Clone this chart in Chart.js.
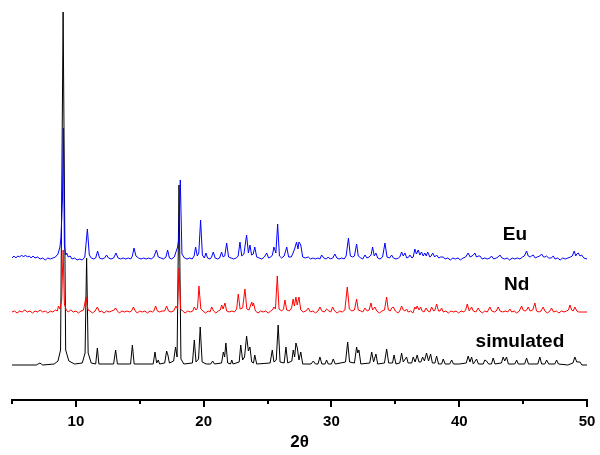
<!DOCTYPE html>
<html>
<head>
<meta charset="utf-8">
<script src="https://cdn.jsdelivr.net/npm/chart.js@4.4.1/dist/chart.umd.min.js"></script>
<style>
  body { margin: 0; background: #fff; }
  canvas { display: block; }
</style>
</head>
<body>
<canvas id="xrd" width="600" height="455"></canvas>
<script>
// 2-theta / intensity pairs (intensity above each trace's own baseline)
const simulated = [
    [5,0],[6.9,0],[7.19,2],[7.4,0],[8.3,1],[8.6,4],[8.8,15],[9.0,353],[9.2,15],[9.45,4],[9.9,1],
    [10.5,2],[10.72,12],[10.84,107],[10.96,12],[11.2,2],[11.55,1],[11.68,17],[11.8,1],[12.95,1],
    [13.11,15],[13.25,1],[14.28,1],[14.42,20],[14.56,1],[16.05,1],[16.19,13],[16.32,2],[16.45,5],
    [16.55,1],[16.95,2],[17.1,14],[17.2,10],[17.32,2],[17.65,4],[17.8,18],[17.92,8],[18.07,180],
    [18.22,6],[18.45,1],[19.12,2],[19.27,25],[19.4,3],[19.6,6],[19.73,38],[19.88,3],[20.2,1],
    [20.55,1],[20.7,4],[20.85,1],[21.4,2],[21.54,13],[21.64,8],[21.74,22],[21.88,2],[22.1,1],
    [22.2,5],[22.3,1],[22.78,3],[22.9,20],[23.05,5],[23.2,8],[23.36,29],[23.5,14],[23.62,18],
    [23.76,3],[23.9,2],[24.0,10],[24.15,1],[25.2,2],[25.37,15],[25.5,3],[25.68,5],[25.83,40],
    [25.98,3],[26.3,2],[26.44,18],[26.58,2],[26.9,4],[27.01,15],[27.12,8],[27.22,22],[27.33,17],
    [27.46,5],[27.6,13],[27.75,1],[28.4,1],[28.58,4],[28.75,1],[28.95,1],[29.1,8],[29.25,1],
    [29.5,1],[29.62,5],[29.75,1],[30.0,1],[30.14,6],[30.3,1],[31.1,3],[31.27,23],[31.42,3],
    [31.8,2],[31.97,18],[32.06,12],[32.15,15],[32.3,1],[33.0,2],[33.15,13],[33.3,3],[33.48,11],
    [33.62,1],[34.15,2],[34.32,16],[34.48,2],[34.78,2],[34.9,10],[35.05,1],[35.35,2],[35.49,12],
    [35.62,3],[35.88,8],[36.0,2],[36.28,2],[36.4,8],[36.55,3],[36.71,10],[36.85,3],[37.0,3],
    [37.13,8],[37.28,4],[37.44,12],[37.6,4],[37.76,11],[37.9,2],[38.1,2],[38.23,9],[38.38,1],
    [38.62,1],[38.75,6],[38.9,1],[39.25,1],[39.41,5],[39.55,1],[40.0,1],[40.55,2],[40.7,9],
    [40.84,3],[40.97,8],[41.1,1],[41.36,6],[41.5,1],[41.88,1],[42.0,5],[42.14,4],[42.3,1],
    [42.52,1],[42.66,7],[42.8,1],[43.3,2],[43.44,8],[43.56,4],[43.7,8],[43.85,1],[44.35,1],
    [44.49,5],[44.62,1],[45.12,1],[45.27,7],[45.42,1],[46.15,1],[46.31,8],[46.45,1],[46.7,1],
    [46.84,5],[47.0,1],[47.48,1],[47.62,5],[47.76,1],[48.5,0],[48.9,2],[49.05,8],[49.2,3],
    [49.45,3],[49.6,0],[50,0]
];

const nd = [
    [5,0],[5.2,1],[5.4,-1],[5.6,1],[5.8,0],[6.0,2],[6.2,0],[6.4,1],[6.6,-1],[6.8,1],[7.0,0],[7.2,2],
    [7.4,0],[7.6,1],[7.8,-1],[8.0,1],[8.2,0],[8.4,2],[8.55,1],[8.63,6],[8.75,3],[8.89,12],[9.0,62],
    [9.1,8],[9.25,2],[9.4,0],[9.6,2],[9.8,0],[10.0,1],[10.2,-1],[10.4,1],[10.6,2],[10.79,15],
    [10.95,2],[11.1,1],[11.3,-1],[11.5,1],[11.68,5],[11.85,0],[12.0,1],[12.2,-1],[12.4,1],[12.6,0],
    [12.8,1],[13.0,2],[13.1,4],[13.25,1],[13.4,-1],[13.6,1],[13.8,0],[14.0,1],[14.2,0],[14.35,1],
    [14.5,5],[14.65,1],[14.8,-1],[15.0,1],[15.2,0],[15.4,1],[15.6,-1],[15.8,1],[16.0,0],[16.1,1],
    [16.24,6],[16.38,1],[16.55,0],[16.75,1],[16.95,1],[17.1,6],[17.25,1],[17.45,0],[17.65,1],
    [17.83,6],[17.95,3],[18.07,44],[18.2,3],[18.35,1],[18.55,-1],[18.75,1],[18.95,0],[19.15,1],
    [19.27,5],[19.4,2],[19.52,4],[19.63,26],[19.78,3],[19.95,1],[20.15,-1],[20.35,1],[20.5,0],
    [20.63,5],[20.78,1],[20.95,-1],[21.15,1],[21.3,2],[21.41,7],[21.52,3],[21.67,9],[21.8,1],
    [22.0,0],[22.2,1],[22.4,0],[22.58,3],[22.71,18],[22.85,3],[23.05,4],[23.23,23],[23.38,3],
    [23.55,2],[23.76,10],[23.84,6],[23.9,9],[24.05,1],[24.25,-1],[24.45,1],[24.65,0],[24.85,1],
    [25.05,-1],[25.25,1],[25.38,2],[25.5,5],[25.62,3],[25.76,36],[25.9,3],[26.1,1],[26.25,3],
    [26.36,12],[26.5,2],[26.7,1],[26.88,4],[27.0,13],[27.1,6],[27.22,15],[27.32,7],[27.46,15],
    [27.6,2],[27.8,0],[28.0,1],[28.19,4],[28.35,0],[28.55,1],[28.75,-1],[28.95,1],[29.1,5],
    [29.25,1],[29.45,0],[29.62,3],[29.8,1],[29.95,0],[30.09,5],[30.25,1],[30.45,-1],[30.65,1],
    [30.85,0],[31.05,2],[31.24,25],[31.4,3],[31.6,1],[31.8,2],[31.97,13],[32.1,2],[32.3,1],
    [32.45,0],[32.62,4],[32.8,1],[32.95,2],[33.09,9],[33.22,2],[33.4,5],[33.55,1],[33.75,-1],
    [33.95,1],[34.15,2],[34.32,15],[34.45,2],[34.6,1],[34.71,4],[34.84,5],[35.0,1],[35.2,-1],
    [35.35,1],[35.49,6],[35.62,2],[35.75,1],[35.88,3],[36.0,0],[36.2,1],[36.38,-1],[36.53,5],
    [36.62,3],[36.71,6],[36.85,2],[36.98,5],[37.1,1],[37.25,0],[37.4,4],[37.55,1],[37.7,0],
    [37.84,5],[38.0,1],[38.1,2],[38.23,8],[38.38,1],[38.5,1],[38.62,4],[38.75,0],[38.95,1],
    [39.15,-1],[39.35,1],[39.55,0],[39.75,1],[39.95,-1],[40.15,1],[40.35,0],[40.5,2],[40.63,8],
    [40.78,1],[40.97,5],[41.1,1],[41.3,0],[41.49,4],[41.62,1],[41.8,-1],[42.0,1],[42.2,0],
    [42.4,5],[42.55,1],[42.75,0],[42.9,1],[43.05,5],[43.2,1],[43.4,0],[43.6,1],[43.8,0],
    [43.97,3],[44.1,0],[44.3,1],[44.5,-1],[44.7,1],[44.88,6],[45.0,2],[45.15,1],[45.28,2],
    [45.4,5],[45.55,1],[45.75,2],[45.92,9],[46.05,1],[46.25,0],[46.4,1],[46.57,5],[46.7,1],
    [46.9,-1],[47.1,1],[47.23,4],[47.38,0],[47.6,1],[47.8,-1],[48.0,1],[48.2,0],[48.4,1],
    [48.55,2],[48.66,7],[48.8,2],[48.92,1],[49.05,5],[49.2,1],[49.35,0],[49.7,0],[50,0]
];

const eu = [
    [5,1],[5.15,3],[5.3,1],[5.45,3],[5.6,2],[5.75,4],[5.9,2],[6.05,4],[6.2,2],[6.35,3],[6.5,1],
    [6.65,3],[6.8,1],[7.0,2],[7.2,0],[7.4,1],[7.6,-1],[7.8,1],[8.0,0],[8.2,1],[8.4,2],[8.6,5],
    [8.75,12],[8.83,21],[8.95,60],[9.02,131],[9.1,14],[9.2,4],[9.28,6],[9.4,2],[9.55,3],[9.7,0],
    [9.9,1],[10.1,-1],[10.3,0],[10.5,-1],[10.7,2],[10.9,30],[11.05,4],[11.2,1],[11.4,0],[11.55,1],
    [11.7,8],[11.85,1],[12.05,0],[12.25,1],[12.4,4],[12.55,1],[12.75,0],[12.95,1],[13.14,6],
    [13.3,1],[13.5,0],[13.7,1],[13.9,0],[14.1,1],[14.3,0],[14.42,3],[14.55,11],[14.7,3],[14.9,1],
    [15.1,0],[15.3,1],[15.5,0],[15.7,1],[15.9,0],[16.1,2],[16.3,9],[16.45,2],[16.65,1],[16.85,0],
    [17.05,2],[17.18,9],[17.32,1],[17.5,0],[17.7,2],[17.96,12],[18.05,20],[18.17,79],[18.3,5],
    [18.5,1],[18.7,0],[18.9,1],[19.1,0],[19.25,3],[19.37,12],[19.5,3],[19.62,6],[19.76,39],
    [19.9,4],[20.05,1],[20.18,6],[20.3,1],[20.5,0],[20.62,2],[20.75,7],[20.9,1],[21.1,0],
    [21.25,1],[21.4,7],[21.52,2],[21.65,3],[21.8,16],[21.95,2],[22.15,1],[22.35,0],[22.55,1],
    [22.7,3],[22.84,17],[22.98,3],[23.15,5],[23.36,24],[23.5,6],[23.62,14],[23.75,4],[23.88,5],
    [24.0,12],[24.15,2],[24.35,1],[24.55,0],[24.75,2],[24.93,6],[25.08,1],[25.25,2],[25.38,4],
    [25.5,12],[25.65,6],[25.79,35],[25.93,3],[26.1,1],[26.3,3],[26.5,12],[26.65,2],[26.85,2],
    [27.0,6],[27.14,11],[27.27,17],[27.38,10],[27.46,17],[27.6,14],[27.75,2],[27.95,1],[28.19,2],
    [28.35,0],[28.55,1],[28.75,0],[28.95,1],[29.1,0],[29.23,4],[29.4,1],[29.6,0],[29.75,2],
    [29.9,0],[30.1,1],[30.27,5],[30.42,1],[30.6,0],[30.8,1],[31.0,0],[31.15,3],[31.33,21],
    [31.48,3],[31.65,2],[31.8,3],[31.97,15],[32.1,3],[32.3,1],[32.45,0],[32.62,4],[32.78,1],
    [32.95,2],[33.1,4],[33.22,12],[33.35,3],[33.48,6],[33.62,1],[33.8,0],[34.0,2],[34.19,16],
    [34.35,2],[34.55,1],[34.71,4],[34.85,1],[35.05,0],[35.25,1],[35.35,2],[35.49,7],[35.62,3],
    [35.75,6],[35.9,1],[36.05,2],[36.14,4],[36.3,1],[36.4,2],[36.53,10],[36.65,5],[36.79,9],
    [36.92,4],[37.05,7],[37.18,3],[37.3,6],[37.42,3],[37.53,7],[37.7,2],[37.8,3],[37.92,6],
    [38.08,2],[38.23,4],[38.4,1],[38.55,2],[38.75,2],[38.9,0],[39.1,1],[39.3,-1],[39.5,1],
    [39.7,0],[39.9,1],[40.1,-1],[40.3,1],[40.5,2],[40.7,6],[40.85,2],[41.0,3],[41.1,4],[41.23,6],
    [41.35,2],[41.5,3],[41.62,3],[41.8,0],[42.0,1],[42.2,0],[42.4,1],[42.53,3],[42.7,0],[42.9,1],
    [43.05,2],[43.18,4],[43.35,1],[43.55,0],[43.75,1],[43.95,-1],[44.15,1],[44.35,0],[44.55,1],
    [44.75,0],[44.95,2],[45.1,3],[45.27,8],[45.4,3],[45.55,2],[45.66,3],[45.79,4],[45.95,1],
    [46.1,2],[46.3,3],[46.45,5],[46.6,2],[46.7,2],[46.84,3],[47.0,1],[47.2,1],[47.36,3],[47.5,0],
    [47.7,1],[47.9,-1],[48.1,1],[48.3,0],[48.5,1],[48.7,2],[48.85,3],[49.0,8],[49.12,3],[49.2,5],
    [49.32,6],[49.45,3],[49.58,4],[49.75,1],[50,0]
];

const seriesNames = ['Eu', 'Nd', 'simulated'];
const xTicks = [5, 10, 15, 20, 25, 30, 35, 40, 45, 50];

// vertical stacking of the traces
const offsets = { Eu: 106, Nd: 53, simulated: 0 };

function shift(points, off) {
    return points.map(p => ({ x: p[0], y: p[1] + off }));
}

const font = 'Liberation Sans, Arial, sans-serif';

// short ticks at 15, 25..., longer at 10, 20...
const tickMarks = {
    id: 'tickMarks',
    afterDraw(chart) {
        const ctx = chart.ctx;
        const xs = chart.scales.x;
        const y0 = chart.chartArea.bottom;
        ctx.save();
        ctx.strokeStyle = '#000';
        ctx.lineWidth = 2;
        xTicks.forEach(v => {
            const px = Math.round(xs.getPixelForValue(v));
            const len = v % 10 === 0 ? 7 : 4;
            ctx.beginPath();
            ctx.moveTo(px, y0);
            ctx.lineTo(px, y0 + len);
            ctx.stroke();
        });
        ctx.restore();
    }
};

// trace names written next to the curves
const traceLabels = {
    id: 'traceLabels',
    afterDatasetsDraw(chart) {
        const ctx = chart.ctx;
        const xs = chart.scales.x, ys = chart.scales.y;
        const spots = { Eu: [44.36, 130], Nd: [44.5, 80], simulated: [44.75, 23] };
        ctx.save();
        ctx.fillStyle = '#000';
        ctx.font = 'bold 19px ' + font;
        ctx.textAlign = 'center';
        ctx.textBaseline = 'middle';
        seriesNames.forEach(name => {
            const s = spots[name];
            ctx.fillText(name, xs.getPixelForValue(s[0]), ys.getPixelForValue(s[1]));
        });
        ctx.restore();
    }
};

const colors = { Eu: '#0000ff', Nd: '#ff0000', simulated: '#000000' };
const sources = { Eu: eu, Nd: nd, simulated: simulated };

new Chart(document.getElementById('xrd'), {
    type: 'line',
    data: {
        datasets: seriesNames.map(name => ({
            label: name,
            data: shift(sources[name], offsets[name]),
            borderColor: colors[name],
            borderWidth: 1,
            pointRadius: 0,
            tension: 0,
            fill: false
        }))
    },
    options: {
        responsive: false,
        animation: false,
        layout: { padding: { left: 12, right: 13, top: 10, bottom: 0 } },
        plugins: {
            legend: { display: false },
            tooltip: { enabled: false }
        },
        scales: {
            x: {
                type: 'linear',
                min: 5,
                max: 50,
                grid: { display: false, drawTicks: false },
                border: { display: true, color: '#000', width: 2 },
                afterBuildTicks: scale => {
                    scale.ticks = xTicks.map(v => ({ value: v }));
                },
                afterFit: scale => {
                    scale.height = 55;
                    scale.paddingLeft = 0;
                    scale.paddingRight = 0;
                },
                ticks: {
                    color: '#000',
                    padding: 13,
                    maxRotation: 0,
                    autoSkip: false,
                    font: { family: font, size: 15, weight: 'bold' },
                    callback: v => (v % 10 === 0 ? String(v) : '')
                },
                title: {
                    display: true,
                    text: '2θ',
                    color: '#000',
                    padding: { top: 1, bottom: 2 },
                    font: { family: font, size: 17, weight: 'bold' }
                }
            },
            y: {
                display: false,
                min: -35,
                max: 355
            }
        }
    },
    plugins: [tickMarks, traceLabels]
});
</script>
</body>
</html>
